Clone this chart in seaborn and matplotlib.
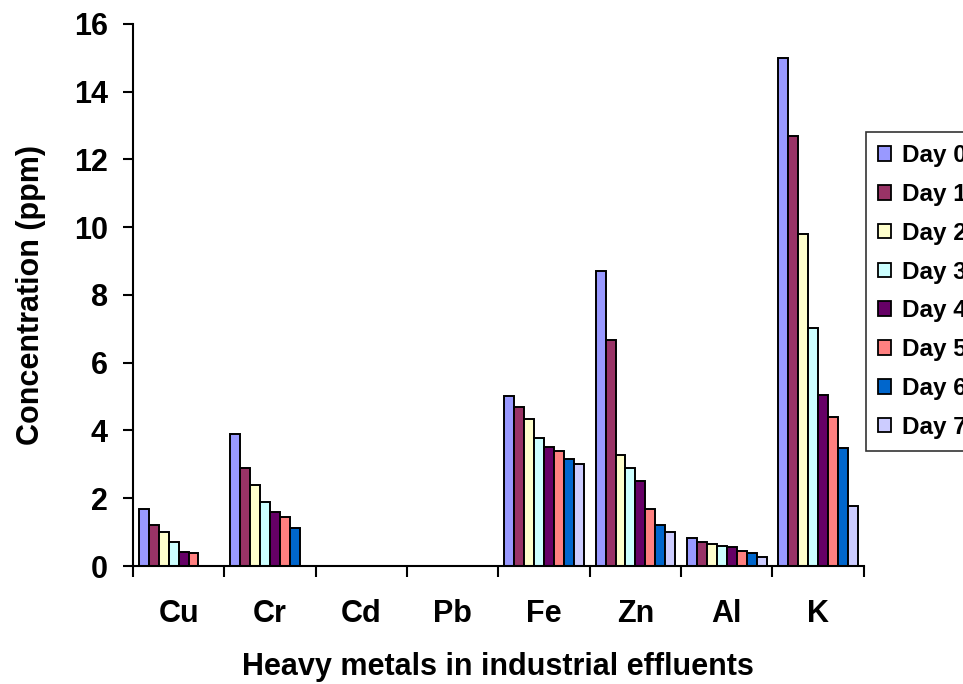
import matplotlib

matplotlib.use("Agg")

import matplotlib.pyplot as plt
import numpy as np
import pandas as pd
import seaborn as sns

# ---------------------------------------------------------------------------
# Data
# ---------------------------------------------------------------------------

metals = ["Cu", "Cr", "Cd", "Pb", "Fe", "Zn", "Al", "K"]
days = ["Day 0", "Day 1", "Day 2", "Day 3", "Day 4", "Day 5", "Day 6", "Day 7"]

day0 = [1.67, 3.90, 0, 0, 5.01, 8.70, 0.82, 15.0]
day1 = [1.21, 2.89, 0, 0, 4.68, 6.68, 0.70, 12.70]
day2 = [0.99, 2.39, 0, 0, 4.34, 3.29, 0.65, 9.81]
day3 = [0.71, 1.88, 0, 0, 3.78, 2.88, 0.59, 7.02]
day4 = [0.42, 1.60, 0, 0, 3.50, 2.51, 0.55, 5.06]
day5 = [0.37, 1.44, 0, 0, 3.40, 1.67, 0.43, 4.39]
day6 = [0, 1.11, 0, 0, 3.17, 1.21, 0.37, 3.49]
day7 = [0, 0, 0, 0, 3.00, 0.99, 0.27, 1.77]

day_colors = ["#9999FF", "#993366", "#FFFFCC", "#CCFFFF",
              "#660066", "#FF8080", "#0066CC", "#CCCCFF"]

series = [day0, day1, day2, day3, day4, day5, day6, day7]
df = pd.DataFrame(
    [(m, d, v) for d, vals in zip(days, series) for m, v in zip(metals, vals)],
    columns=["metal", "day", "ppm"],
)

# ---------------------------------------------------------------------------
# Plot
# ---------------------------------------------------------------------------

sns.set_theme(style="white")
plt.rcParams.update(
    {
        "font.family": ["Liberation Sans", "DejaVu Sans"],
        "font.weight": "bold",
        "text.color": "black",
        "axes.labelcolor": "black",
        "xtick.color": "black",
        "ytick.color": "black",
    }
)

fig = plt.figure(figsize=(9.63, 6.84), dpi=100)
ax = fig.add_axes([0.138, 0.1725, 0.759, 0.7925])

sns.barplot(
    data=df,
    x="metal",
    y="ppm",
    hue="day",
    order=metals,
    hue_order=days,
    palette=day_colors,
    width=0.87,
    edgecolor="black",
    linewidth=1.4,
    saturation=1,
    ax=ax,
)

ax.set_ylim(0, 16)
ax.set_xlim(-0.5, len(metals) - 0.5)
ax.set_yticks(np.arange(0, 17, 2))

# category ticks between groups, labels centred without marks
ax.set_xticks(np.arange(-0.5, len(metals), 1.0), minor=True)
ax.tick_params(axis="x", which="minor", length=8, width=1.5, color="black",
               direction="out", bottom=True)
ax.tick_params(axis="x", which="major", length=0, pad=24, labelsize=22)
ax.tick_params(axis="y", length=7, width=1.5, color="black", direction="out",
               left=True, pad=11, labelsize=22)

for lab in ax.get_xticklabels() + ax.get_yticklabels():
    lab.set_fontweight("bold")

sns.despine(ax=ax)
for side in ["left", "bottom"]:
    ax.spines[side].set_color("black")
    ax.spines[side].set_linewidth(1.5)

ax.set_xlabel("Heavy metals in industrial effluents", fontsize=22,
              fontweight="bold", labelpad=16)
ax.set_ylabel("Concentration (ppm)", fontsize=22, fontweight="bold",
              labelpad=20)

ax.legend_.remove()
handles = [plt.Rectangle((0, 0), 1, 1, facecolor=c, edgecolor="black", linewidth=1.3)
           for c in day_colors]
leg = fig.legend(
    handles,
    days,
    loc="upper left",
    bbox_to_anchor=(0.899, 0.807),
    borderaxespad=0,
    frameon=True,
    fancybox=False,
    edgecolor="black",
    prop={"size": 17.5, "weight": "bold"},
    handlelength=0.55,
    handleheight=0.55,
    handletextpad=0.45,
    labelspacing=0.65,
    borderpad=0.5,
)
leg.get_frame().set_linewidth(1.2)

fig.savefig("out.png", dpi=100)
